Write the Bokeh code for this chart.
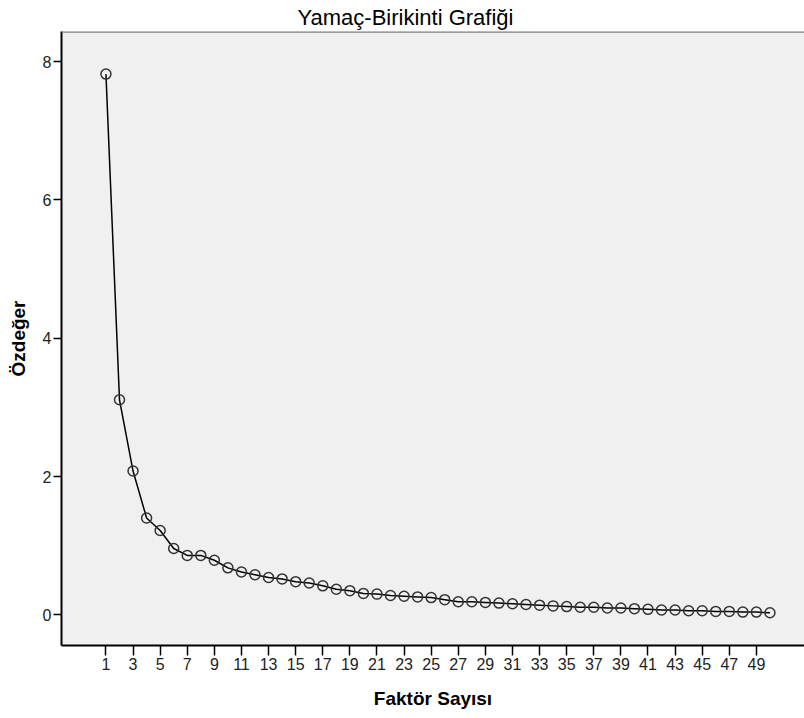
from bokeh.plotting import figure
from bokeh.models import Range1d, FixedTicker, Span, Title
from bokeh.embed import file_html
from bokeh.resources import INLINE

# ---- data ----
factor_numbers = list(range(1, 51))
eigenvalues = [7.82, 3.11, 2.08, 1.40, 1.22, 0.96, 0.86, 0.86, 0.79, 0.68,
               0.62, 0.58, 0.54, 0.52, 0.48, 0.46, 0.42, 0.37, 0.35, 0.31,
               0.30, 0.28, 0.27, 0.26, 0.25, 0.22, 0.19, 0.19, 0.18, 0.17,
               0.16, 0.15, 0.14, 0.13, 0.12, 0.11, 0.11, 0.10, 0.10, 0.09,
               0.08, 0.07, 0.07, 0.06, 0.06, 0.05, 0.05, 0.04, 0.04, 0.03]
x_tick_values = list(range(1, 50, 2))
y_tick_values = [0, 2, 4, 6, 8]
title_text = "Yamaç-Birikinti Grafiği"
x_label = "Faktör Sayısı"
y_label = "Özdeğer"

FONT = "Liberation Sans"
Y_END = 8.436

p = figure(width=804, height=718, output_backend="svg", toolbar_location=None,
           x_range=Range1d(-2.28, 52.55), y_range=Range1d(-0.443, Y_END),
           min_border_left=61, min_border_right=0, min_border_top=30,
           min_border_bottom=73)
p.title = Title(text=title_text, align="left", offset=236, standoff=4,
                text_font=FONT, text_font_size="22px",
                text_font_style="normal", text_color="#000000")

p.border_fill_color = "#ffffff"
p.background_fill_color = "#f0f0f0"
p.outline_line_color = None
p.grid.visible = False

p.line(factor_numbers, eigenvalues, line_color="#000000", line_width=1.5)
p.scatter(factor_numbers, eigenvalues, size=10, marker="circle",
          fill_color=None, line_color="#333333", line_width=1.5)

xa = p.xaxis[0]
xa.ticker = FixedTicker(ticks=x_tick_values)
xa.axis_label = x_label
ya = p.yaxis[0]
ya.ticker = FixedTicker(ticks=y_tick_values)
ya.axis_label = y_label

for ax in (xa, ya):
    ax.minor_tick_line_color = None
    ax.major_tick_in = 0
    ax.axis_line_color = "#000000"
    ax.axis_line_width = 2
    ax.major_tick_line_color = "#000000"
    ax.major_tick_line_width = 1.5
    ax.major_label_text_font = FONT
    ax.major_label_text_font_size = "16px"
    ax.major_label_text_color = "#222222"
    ax.axis_label_text_font = FONT
    ax.axis_label_text_font_size = "19px"
    ax.axis_label_text_font_style = "bold"
    ax.axis_label_text_color = "#000000"

xa.major_tick_out = 10
xa.major_label_standoff = 2
xa.axis_label_standoff = 15
ya.major_tick_out = 8
ya.major_label_standoff = 2
ya.axis_label_standoff = 11

# top border of the plot area
p.add_layout(Span(location=Y_END, dimension="width", line_color="#808080",
                  line_width=2.5))

open("out.html", "w").write(file_html(p, INLINE))
